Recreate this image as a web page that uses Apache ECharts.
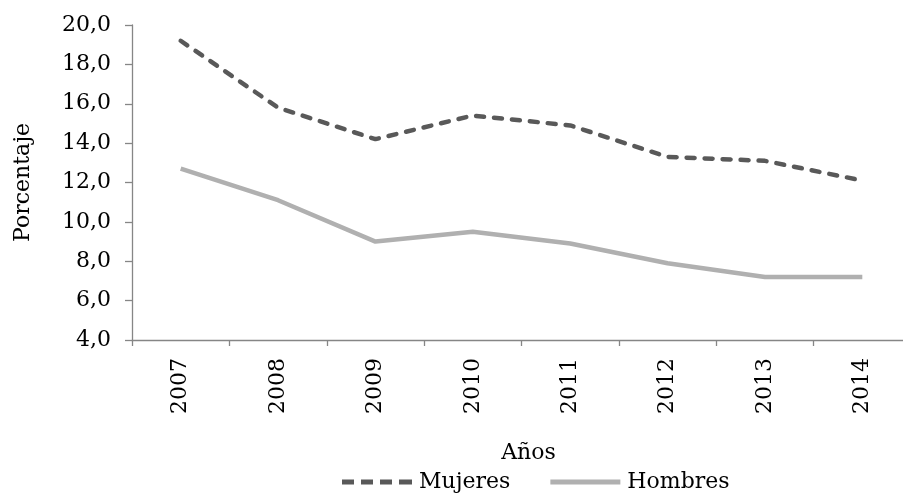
<!DOCTYPE html>
<html>
<head>
<meta charset="utf-8">
<script src="https://cdn.jsdelivr.net/npm/echarts@6/dist/echarts.min.js"></script>
<style>html,body{margin:0;padding:0;background:#fff}#c{width:903px;height:494px}</style>
</head>
<body>
<div id="c"></div>
<script>
var years = ['2007','2008','2009','2010','2011','2012','2013','2014'];
var mujeres = [19.2, 15.8, 14.2, 15.4, 14.9, 13.3, 13.1, 12.1];
var hombres = [12.7, 11.1, 9.0, 9.5, 8.9, 7.9, 7.2, 7.2];
var yTicks = {min: 4, max: 20, interval: 2};

var FONT = '"DejaVu Serif", serif';
var axisColor = '#868686';
var cMuj = '#595959', cHom = '#b0b0b0';
var chart = echarts.init(document.getElementById('c'));
chart.setOption({
  animation: false,
  backgroundColor: '#fff',
  textStyle: {fontFamily: FONT, color: '#000'},
  grid: {left: 132, top: 25, width: 779, height: 315, outerBoundsMode: 'none', containLabel: false},
  legend: {
    left: 337, top: 466,
    itemWidth: 70, itemHeight: 5, itemGap: 40,
    textStyle: {fontFamily: FONT, fontSize: 22, color: '#000', padding: [0,0,0,2]},
    data: [
      {name: 'Mujeres', icon: 'path://M0,0h12v5h-12z M19,0h12v5h-12z M38,0h12v5h-12z M57,0h13v5h-13z', itemStyle: {color: cMuj}},
      {name: 'Hombres', icon: 'path://M0,0h70v5h-70z', itemStyle: {color: cHom}}
    ]
  },
  xAxis: {
    type: 'category',
    data: years,
    name: 'Años',
    nameLocation: 'middle',
    nameGap: 102,
    nameTextStyle: {fontFamily: FONT, fontSize: 22, color: '#000', padding: [0,0,0,14]},
    axisLine: {lineStyle: {color: axisColor, width: 1.3}},
    axisTick: {show: true, length: 6, lineStyle: {color: axisColor, width: 1.3}},
    axisLabel: {rotate: 90, margin: 18, fontFamily: FONT, fontSize: 22, color: '#000'},
    splitLine: {show: false}
  },
  yAxis: {
    type: 'value',
    min: yTicks.min, max: yTicks.max, interval: yTicks.interval,
    name: 'Porcentaje',
    nameLocation: 'middle',
    nameGap: 98,
    nameTextStyle: {fontFamily: FONT, fontSize: 22, color: '#000'},
    axisLine: {show: true, lineStyle: {color: axisColor, width: 1.3}},
    axisTick: {show: true, inside: false, length: 7, lineStyle: {color: axisColor, width: 1.3}},
    axisLabel: {margin: 21, fontFamily: FONT, fontSize: 22, color: '#000',
      formatter: function(v){ return v.toFixed(1).replace('.', ','); }},
    splitLine: {show: false}
  },
  series: [
    {name: 'Mujeres', type: 'line', data: mujeres, symbol: 'none',
     itemStyle: {color: cMuj},
     lineStyle: {color: cMuj, width: 4.5, type: [8, 10], cap: 'round'}},
    {name: 'Hombres', type: 'line', data: hombres, symbol: 'none',
     itemStyle: {color: cHom},
     lineStyle: {color: cHom, width: 4.5}}
  ]
});
</script>
</body>
</html>
